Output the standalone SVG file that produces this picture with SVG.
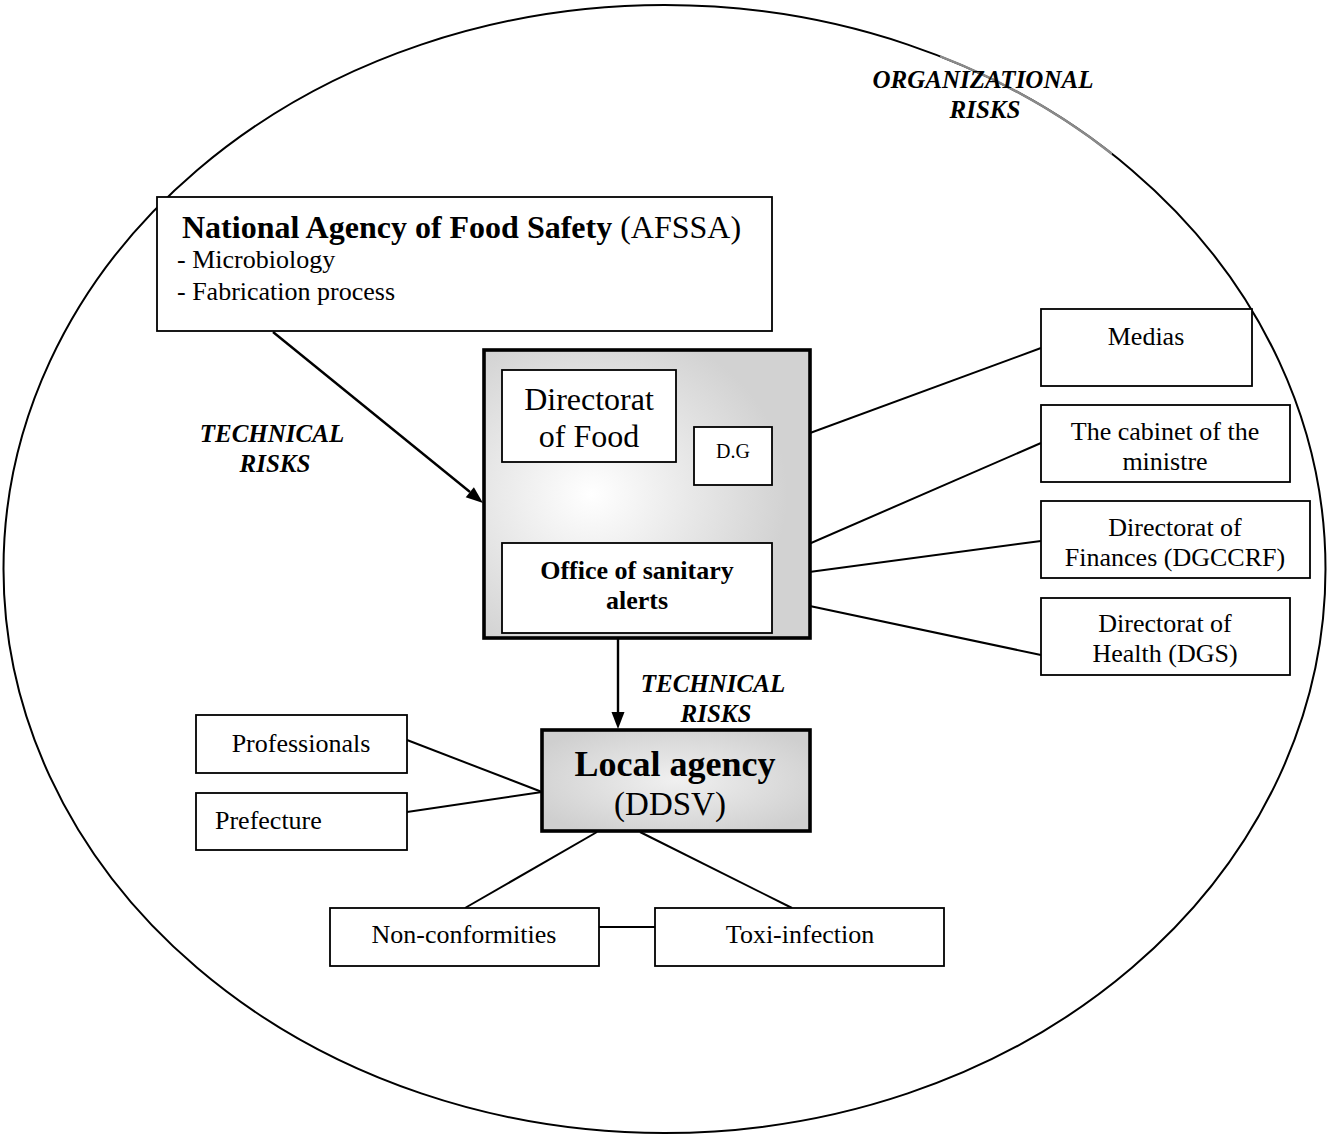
<svg xmlns="http://www.w3.org/2000/svg" width="1328" height="1135" viewBox="0 0 1328 1135">
<style>
.box{fill:#fff;stroke:#000;stroke-width:1.8}
.thick{stroke:#000;stroke-width:3.6}
.t{font-family:"Liberation Serif","Times New Roman",serif;fill:#000}
.risk{font-family:"Liberation Serif","Times New Roman",serif;font-weight:bold;font-style:italic;font-size:25px;text-anchor:middle}
.c{text-anchor:middle}
.ln{stroke:#000;stroke-width:2;fill:none}
.ar{stroke:#000;stroke-width:2.4;fill:none}
.head{fill:#000;stroke:none}
</style>
<defs>
<radialGradient id="g1" cx="0.33" cy="0.5" r="0.6">
<stop offset="0" stop-color="#ffffff"/>
<stop offset="1" stop-color="#d2d2d2"/>
</radialGradient>
<radialGradient id="g2" cx="0.5" cy="0.5" r="0.6">
<stop offset="0" stop-color="#f0f0f0"/>
<stop offset="1" stop-color="#cfcfcf"/>
</radialGradient>
<clipPath id="clipG"><rect x="940" y="0" width="172" height="160"/></clipPath>
</defs>

<g id="boundary">
<ellipse cx="664.5" cy="569" rx="661" ry="564" fill="none" stroke="#000" stroke-width="2"/>
<ellipse cx="664.5" cy="569" rx="661" ry="564" fill="none" stroke="#8a8a8a" stroke-width="2.4" clip-path="url(#clipG)"/>
</g>

<g id="labels">
<text class="risk" x="983" y="88">ORGANIZATIONAL</text>
<text class="risk" x="985" y="118">RISKS</text>
<text class="risk" x="272" y="442">TECHNICAL</text>
<text class="risk" x="275" y="472">RISKS</text>
<text class="risk" x="713" y="692">TECHNICAL</text>
<text class="risk" x="716" y="722">RISKS</text>
</g>

<g id="connectors">
<line class="ar" x1="273" y1="332" x2="470" y2="492"/>
<polygon class="head" points="483,503 465.7,497.3 473.9,487.3"/>
<line class="ar" x1="618" y1="638" x2="618" y2="714"/>
<polygon class="head" points="618,729 611.5,712 624.5,712"/>
<line class="ln" x1="752" y1="485" x2="752" y2="543"/>
<line class="ln" x1="772" y1="447" x2="1041" y2="348"/>
<line class="ln" x1="772" y1="560" x2="1041" y2="443"/>
<line class="ln" x1="772" y1="577" x2="1041" y2="541"/>
<line class="ln" x1="772" y1="598" x2="1041" y2="655"/>
<line class="ln" x1="407" y1="740" x2="542" y2="792"/>
<line class="ln" x1="407" y1="812" x2="542" y2="792"/>
<line class="ln" x1="597" y1="832" x2="465" y2="908"/>
<line class="ln" x1="640" y1="832" x2="792" y2="908"/>
<line class="ln" x1="599" y1="927" x2="655" y2="927"/>
</g>

<g id="afssa">
<rect class="box" x="157" y="197" width="615" height="134"/>
<text class="t" x="182" y="238" font-size="32"><tspan font-weight="bold">National Agency of Food Safety</tspan> (AFSSA)</text>
<text class="t" x="177" y="268" font-size="26">- Microbiology</text>
<text class="t" x="177" y="300" font-size="26">- Fabrication process</text>
</g>

<g id="dgal">
<rect x="484" y="350" width="326" height="288" fill="url(#g1)" class="thick"/>
</g>

<g id="directorat-food">
<rect class="box" x="502" y="370" width="174" height="92"/>
<text class="t c" x="589" y="410" font-size="32">Directorat</text>
<text class="t c" x="589" y="447" font-size="32">of Food</text>
</g>

<g id="dg">
<rect class="box" x="694" y="427" width="78" height="58"/>
<text class="t c" x="733" y="458" font-size="20">D.G</text>
</g>

<g id="office">
<rect class="box" x="502" y="543" width="270" height="90"/>
<text class="t c" x="637" y="579" font-size="26" font-weight="bold">Office of sanitary</text>
<text class="t c" x="637" y="609" font-size="26" font-weight="bold">alerts</text>
</g>

<g id="medias">
<rect class="box" x="1041" y="309" width="211" height="77"/>
<text class="t c" x="1146" y="345" font-size="26">Medias</text>
</g>

<g id="cabinet">
<rect class="box" x="1041" y="405" width="249" height="77"/>
<text class="t c" x="1165" y="440" font-size="26">The cabinet of the</text>
<text class="t c" x="1165" y="470" font-size="26">ministre</text>
</g>

<g id="finances">
<rect class="box" x="1041" y="501" width="269" height="77"/>
<text class="t c" x="1175" y="536" font-size="26">Directorat of</text>
<text class="t c" x="1175" y="566" font-size="26">Finances (DGCCRF)</text>
</g>

<g id="health">
<rect class="box" x="1041" y="598" width="249" height="77"/>
<text class="t c" x="1165" y="632" font-size="26">Directorat of</text>
<text class="t c" x="1165" y="662" font-size="26">Health (DGS)</text>
</g>

<g id="local">
<rect x="542" y="730" width="268" height="101" fill="url(#g2)" class="thick"/>
<text class="t c" x="675" y="776" font-size="36" font-weight="bold">Local agency</text>
<text class="t c" x="670" y="815" font-size="33">(DDSV)</text>
</g>

<g id="professionals">
<rect class="box" x="196" y="715" width="211" height="58"/>
<text class="t c" x="301" y="752" font-size="26">Professionals</text>
</g>

<g id="prefecture">
<rect class="box" x="196" y="793" width="211" height="57"/>
<text class="t" x="215" y="829" font-size="26">Prefecture</text>
</g>

<g id="nonconf">
<rect class="box" x="330" y="908" width="269" height="58"/>
<text class="t c" x="464" y="943" font-size="26">Non-conformities</text>
</g>

<g id="toxi">
<rect class="box" x="655" y="908" width="289" height="58"/>
<text class="t c" x="800" y="943" font-size="26">Toxi-infection</text>
</g>
</svg>
